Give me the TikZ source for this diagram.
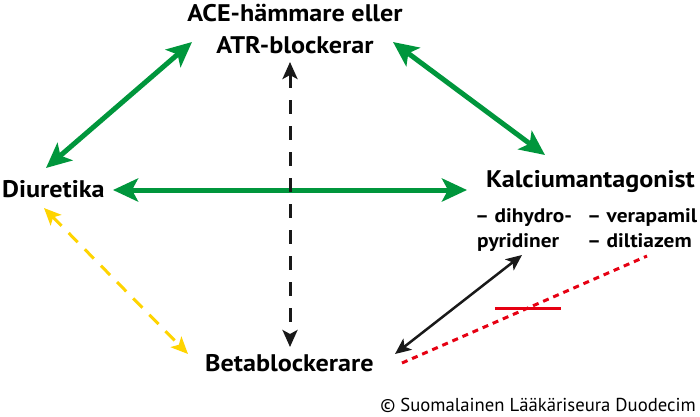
\documentclass[tikz,border=0pt]{standalone}
\usepackage{fontspec}
\setmainfont{PT Sans}
\newfontfamily\labfont[FakeStretch=1.09]{PT Sans}
\usetikzlibrary{arrows.meta,calc}
\definecolor{dgreen}{RGB}{0,150,60}
\definecolor{dyellow}{RGB}{255,212,0}
\definecolor{dred}{RGB}{230,0,18}
\tikzset{
	lab/.style={font=\labfont\bfseries\fontsize{24}{32}\selectfont, inner sep=0pt},
	sublab/.style={font=\labfont\bfseries\fontsize{19.6}{25}\selectfont, inner sep=0pt, align=left},
	garrow/.style={draw=dgreen, line width=5pt, {Stealth[length=25pt,width=23pt,inset=6pt]}-{Stealth[length=25pt,width=23pt,inset=6pt]}},
	kdash/.style={draw=black!90, line width=3pt, dash pattern=on 14pt off 12pt, {Stealth[length=17pt,width=15pt,inset=4pt]}-{Stealth[length=17pt,width=15pt,inset=4pt]}},
	ydash/.style={draw=dyellow, line width=3pt, dash pattern=on 13pt off 10pt, {Stealth[length=17pt,width=15pt,inset=4pt]}-{Stealth[length=17pt,width=15pt,inset=4pt]}},
	karrow/.style={draw=black!90, line width=2.5pt, {Stealth[length=16pt,width=14pt,inset=4pt]}-{Stealth[length=16pt,width=14pt,inset=4pt]}},
	rdots/.style={draw=dred, line width=3pt, dash pattern=on 6pt off 5pt}
}
\begin{document}
\begin{tikzpicture}[x=1pt, y=-1pt, line join=round]
	\useasboundingbox (0,0) rectangle (700,416);
	% labels (base of a two-line node = its last line)
	\node[lab, align=center, anchor=base] (ace) at (295,53) {ACE-hämmare eller\\ATR-blockerar};
	\node[lab, anchor=base west] (diu) at (2,197) {Diuretika};
	\node[lab, anchor=base east] (kalc) at (695,187) {Kalciumantagonist};
	\node[sublab, anchor=base west] (dhp) at (475,247) {– dihydro-\\\hspace*{2pt}pyridiner};
	\node[sublab, anchor=base west] (vera) at (587,247) {– verapamil\\– diltiazem};
	\node[lab, anchor=base west] (beta) at (205,371) {Betablockerare};
	\node[inner sep=0pt, anchor=base east, font=\fontsize{18.7}{20}\selectfont] (copy) at (696,411) {© Suomalainen Lääkäriseura Duodecim};
	% green links
	\draw[garrow] ($(ace.base)+(-103,-11)$) -- ($(diu.base west)+(44,-29)$);
	\draw[garrow] ($(ace.base)+(98,-11)$) -- ($(kalc.base east)+(-150,-32)$);
	\draw[garrow] ($(diu.base west)+(111,-7)$) -- ($(kalc.base east)+(-228,3)$);
	% dashed links
	\draw[kdash] ($(ace.base)+(-5,9)$) -- ($(beta.base west)+(85,-24)$);
	\draw[ydash] ($(diu.base west)+(42,11)$) -- ($(beta.base west)+(-17,-17)$);
	% betablockerare -- dihydropyridiner
	\draw[karrow] ($(beta.base west)+(190,-17)$) -- ($(dhp.base west)+(47,8)$);
	% not with verapamil/diltiazem
	\path ($(beta.base west)+(197,-8)$) coordinate (r1) ($(vera.base west)+(60,9)$) coordinate (r2);
	\draw[rdots] (r1) -- (r2);
	\draw[dred, line width=3pt] ($(r1)!0.514!(r2)+(-33,0)$) -- ($(r1)!0.514!(r2)+(33,0)$);
\end{tikzpicture}
\end{document}
